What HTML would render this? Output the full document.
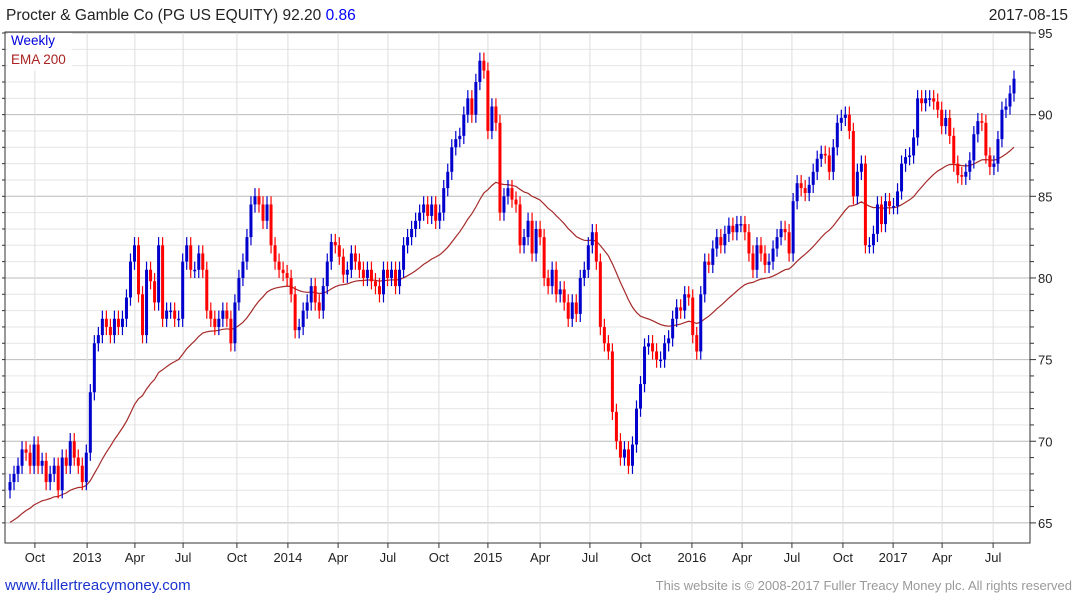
<!DOCTYPE html>
<html><head><meta charset="utf-8">
<style>
body{margin:0;background:#fff;width:1075px;height:600px;overflow:hidden;font-family:"Liberation Sans",sans-serif;}
svg{display:block}
</style></head>
<body>
<svg id="chart" width="1075" height="600">
<text x="6" y="20" font-size="15.5" fill="#222">Procter &amp; Gamble Co (PG US EQUITY) 92.20 <tspan fill="#0000ff">0.86</tspan></text>
<text x="1068" y="20" font-size="15.5" fill="#222" text-anchor="end">2017-08-15</text>
<g id="grid"></g>
<g id="ema"></g>
<g id="candles"></g>
<rect x="5" y="32" width="1025" height="511" fill="none" stroke="#333" stroke-width="1"/>
<g id="axes"></g>
<rect x="8" y="33" width="64" height="38" fill="#fff" opacity="0.85"/>
<text x="11" y="45" font-size="13.5" fill="#0000dd">Weekly</text>
<text x="11" y="64" font-size="13.5" fill="#aa2222">EMA 200</text>
<text x="5" y="590" font-size="15" fill="#1a33cc">www.fullertreacymoney.com</text>
<text x="1072" y="590" font-size="13" fill="#999" text-anchor="end">This website is © 2008-2017 Fuller Treacy Money plc. All rights reserved</text>
</svg>
<script>
const closes = [67.5,68,68.5,69.5,69.3,68.5,69.8,68.5,68.8,67.5,68,68.5,67,69,68.5,70,69,68.5,67.5,69.3,
73,76,76.5,77.5,77,76.5,77.5,77,77.5,78.8,81,82,79,76.5,80.5,79.8,78.5,82,77.5,78,78,77.5,77.5,81,82,80.5,80.5,81.5,80.5,78,77.5,77,77.5,78,77.5,76,78.5,80,81,82.5,84.5,85,84.5,83.5,84.5,82,81,80.5,80.3,80,79,76.8,77,78,78.5,79.5,78.5,78,79.5,81,82.2,82,81.3,80.2,80.5,81.5,81,80.5,80,80.5,79.8,79.5,79,80.5,80,80.5,79.5,80.5,82,82.5,83,83.5,84,84.5,83.8,84.5,83.5,84,85.5,86.5,88,88.5,88.7,90,91,90,92,93.3,92.7,89,90.5,89.5,84,85,85.5,84.8,84.5,82,82.5,83.5,81.5,83,82.5,80,79.5,80.5,79,79.3,78.5,77.5,78.5,77.8,80,80.5,82,82.8,81,77,76,75.5,71.8,70,69,69.5,68.5,69.8,72,73.5,75.8,76,75.5,75,75,76,76.3,77.5,78.2,78,79,78.8,76.5,75.5,79,81,80.8,81.8,82.5,82,82.7,83.2,82.8,83.3,83.3,82.8,81.5,80.5,82,81.5,80.8,81,81.8,82.5,83,82.8,81.5,84.7,85.8,85.5,85.2,85.7,86.5,87.3,87.6,87.5,86.5,88,89.5,89.8,90,89,85,86.5,87,82,82,82.7,84.5,83.3,84.7,84.4,84.4,85.3,87,87.4,87.5,88.6,91,90.7,91,91,90.8,90.3,89.3,89.8,88.7,87,86.3,86.2,86.5,87.2,88.8,89.6,89.5,87.5,86.8,87,88.5,90.3,90.5,91.3,92.2];
const firstOpen = 67.0;
const priceTicks = [65,70,75,80,85,90,95];
const monthLabels = ["Oct","2013","Apr","Jul","Oct","2014","Apr","Jul","Oct","2015","Apr","Jul","Oct","2016","Apr","Jul","Oct","2017","Apr","Jul"];
const monthWeeks = [6.2,19.2,31.1,43.1,56.5,69.2,81.7,94.1,106.8,119,132,144.4,157.1,169.8,182.3,194.7,207.4,219.9,232.1,244.8];
const emaStart = 64.9;
const emaPeriod = 38;

const NS="http://www.w3.org/2000/svg";
const L=5,R=1030,T=32,B=543;
const x0=10,x1=1014;
function xs(i){return x0+i*(x1-x0)/(closes.length-1);}
function ys(p){return 33+(95-p)*16.33;}
function mk(tag,attrs,parent){const e=document.createElementNS(NS,tag);for(const k in attrs)e.setAttribute(k,attrs[k]);parent.appendChild(e);return e;}
const grid=document.getElementById('grid'),axes=document.getElementById('axes');
for(let p=65;p<=95;p++){
  const y=ys(p);const major=p%5===0;
  const ln=mk('line',{x1:L,x2:R,y1:y,y2:y,stroke:major?'#bbb':'#e6e6e6','stroke-width':1},grid);
  
  
  const tk=mk('line',{x1:R,x2:R+(major?6:4),y1:y,y2:y,stroke:'#333'},axes);
  
  
  const lt=mk('line',{x1:L,x2:L-3,y1:y,y2:y,stroke:'#333'},axes);
  
  
}
priceTicks.forEach(p=>{
  const t=mk('text',{x:R+8,y:ys(p)+5,'font-size':13,fill:'#222'},axes);
  t.textContent=p;
  
  
});
monthWeeks.forEach((w,k)=>{
  const x=xs(w);
  const g=mk('line',{x1:x,x2:x,y1:T,y2:B,stroke:'#ddd'},grid);
  
  
  const t=mk('text',{x:x,y:562,'font-size':13,fill:'#222','text-anchor':'middle'},axes);
  t.textContent=monthLabels[k];
  
  
  const tk=mk('line',{x1:x,x2:x,y1:B,y2:B+5,stroke:'#333'},axes);
  
  
});
const cg=document.getElementById('candles');
let prev=firstOpen;
closes.forEach((c,i)=>{
  const o=prev;prev=c;
  const up=c>=o;const col=up?'#0000cc':'#ff0000';
  const hi=Math.max(o,c)+0.5,lo=Math.min(o,c)-0.5;
  const x=xs(i);
  const w=mk('line',{x1:x,x2:x,y1:ys(hi),y2:ys(lo),stroke:col,'stroke-width':1.2},cg);
  
  
  const top=ys(Math.max(o,c)),bot=ys(Math.min(o,c));
  const b=mk('rect',{x:x-1.5,y:top,width:3,height:Math.max(1.5,bot-top),fill:col},cg);
  
  
});
let e=emaStart;const a=2/(emaPeriod+1);let d='';
closes.forEach((c,i)=>{e=e+a*(c-e);d+=(i?'L':'M')+xs(i).toFixed(1)+','+ys(e).toFixed(1);});
const ep=mk('path',{d:d,fill:'none',stroke:'#a52a2a','stroke-width':1.2},document.getElementById('ema'));


</script>
</body></html>
